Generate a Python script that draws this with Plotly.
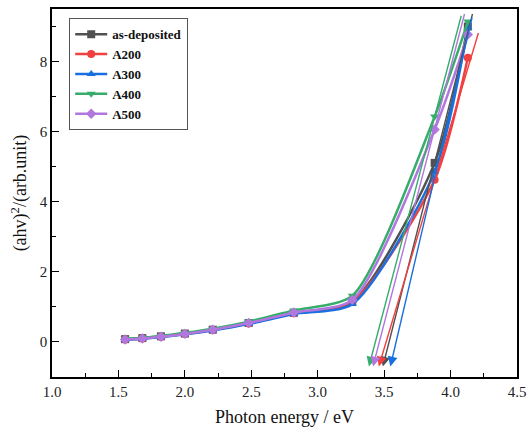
import plotly.graph_objects as go

# ---- data ----
photon_energy = [1.55, 1.68, 1.82, 2.00, 2.21, 2.48, 2.82, 3.26, 3.88, 4.13]
series_names = ["as-deposited", "A200", "A300", "A400", "A500"]
as_deposited = [0.08, 0.11, 0.16, 0.24, 0.35, 0.54, 0.83, 1.15, 5.11, 9.00]
a200 = [0.07, 0.10, 0.15, 0.23, 0.34, 0.53, 0.82, 1.15, 4.63, 8.11]
a300 = [0.06, 0.09, 0.14, 0.22, 0.33, 0.51, 0.80, 1.08, 4.86, 8.97]
a400 = [0.09, 0.12, 0.17, 0.26, 0.38, 0.58, 0.90, 1.32, 6.43, 9.14]
a500 = [0.07, 0.10, 0.15, 0.23, 0.35, 0.54, 0.84, 1.20, 6.06, 8.77]

# linear (Tauc) extrapolation lines: band gap (x-intercept) and slope
fit_eg = [3.537, 3.515, 3.590, 3.434, 3.464]
fit_slope = [14.9, 12.7, 16.2, 14.4, 14.6]
fit_y_low = -0.7
fit_y_high = [9.40, 8.86, 9.30, 9.35, 9.40]

x_ticks = [1.0, 1.5, 2.0, 2.5, 3.0, 3.5, 4.0, 4.5]
y_ticks = [0, 2, 4, 6, 8]

# ---- style ----
colors = ["#515151", "#F14040", "#1A6FDF", "#37AD6B", "#B177DE"]
symbols = ["square", "circle", "triangle-up", "triangle-down", "diamond"]
FONT = "'Liberation Serif', 'Times New Roman', Times, serif"

fig = go.Figure()
all_y = [as_deposited, a200, a300, a400, a500]
for name, ys, c, s in zip(series_names, all_y, colors, symbols):
    fig.add_trace(go.Scatter(
        x=photon_energy, y=ys, name=name, mode="lines+markers",
        line=dict(color=c, width=2.5, shape="spline", smoothing=0.7),
        marker=dict(symbol=s, size=8, color=c),
    ))

annotations = []
for eg, k, yh, c in zip(fit_eg, fit_slope, fit_y_high, colors):
    x_low = eg + fit_y_low / k
    x_high = eg + yh / k
    annotations.append(dict(
        x=x_low, y=fit_y_low, xref="x", yref="y",
        ax=x_high, ay=yh, axref="x", ayref="y",
        showarrow=True, arrowhead=2, arrowsize=1.4, arrowwidth=1.4,
        arrowcolor=c, standoff=0, startstandoff=0, text="",
    ))

fig.update_layout(
    width=529, height=434,
    margin=dict(l=52, r=12, t=9, b=57),
    paper_bgcolor="white", plot_bgcolor="white",
    font=dict(family=FONT, size=15, color="#222"),
    annotations=annotations,
    legend=dict(
        x=0.037, y=0.975, xanchor="left", yanchor="top",
        bgcolor="white", bordercolor="#555", borderwidth=1,
        font=dict(family=FONT, size=13, color="#111", weight="bold"),
        itemwidth=32, tracegroupgap=0,
    ),
    xaxis=dict(
        range=[1.0, 4.5], tickvals=x_ticks, ticktext=[f"{v:.1f}" for v in x_ticks],
        ticks="inside", ticklen=7, tickwidth=1.2, tickcolor="#000",
        showline=True, linecolor="#000", linewidth=1.5, mirror=True,
        showgrid=False, zeroline=False, automargin=False,
        tickfont=dict(family=FONT, size=15, color="#222"),
        minor=dict(dtick=0.25, tick0=1.0, ticks="inside", ticklen=4, tickwidth=1.2, tickcolor="#000"),
        title=dict(text="Photon energy / eV", font=dict(family=FONT, size=18, color="#111"), standoff=12),
    ),
    yaxis=dict(
        range=[-1.0, 9.5], tickvals=y_ticks,
        ticks="inside", ticklen=7, tickwidth=1.2, tickcolor="#000",
        showline=True, linecolor="#000", linewidth=1.5, mirror=True,
        showgrid=False, zeroline=False, automargin=False,
        tickfont=dict(family=FONT, size=15, color="#222"),
        minor=dict(dtick=1, tick0=0, ticks="inside", ticklen=4, tickwidth=1.2, tickcolor="#000"),
        title=dict(text="(ahv)<sup>2</sup>/(arb.unit)", font=dict(family=FONT, size=18, color="#111"), standoff=8),
    ),
)

fig.write_html("out.html", config={"displayModeBar": False},
               post_script="document.body.style.margin='0';")
